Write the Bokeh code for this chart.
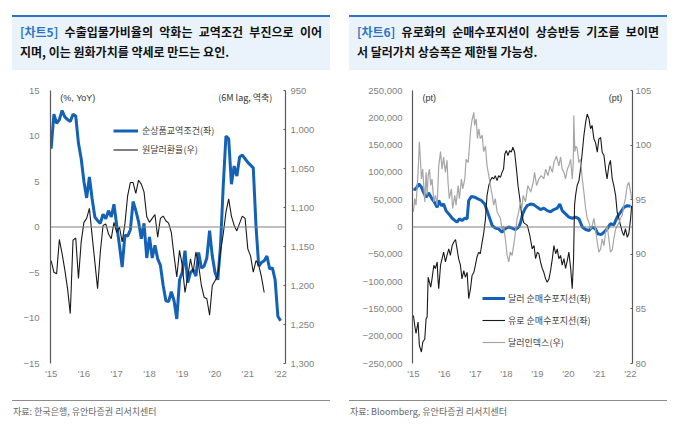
from bokeh.plotting import figure
from bokeh.models import Range1d, LinearAxis, FixedTicker, Span, Label, Legend, LegendItem, Div
from bokeh.layouts import column, row
from bokeh.embed import file_html
from bokeh.resources import INLINE

# ---------------- Chart 5 data (monthly, from Jan 2015) ----------------
tot_yoy = [8.6, 12.4, 11.4, 11.8, 12.8, 12.1, 11.8, 11.6, 12.4, 12.2, 9.2, 7.5,
           5.0, 3.2, 5.5, 3.1, 1.1, 0.7, 0.4, 1.4, 0.9, 1.8, 1.1, 2.5,
           0.2, -2.0, -4.4, -0.9, -1.0, -0.3, 2.8, 1.8, 0.6, -1.3, 0.4, -3.4,
           -1.1, -3.4, -2.0, -3.5, -4.2, -6.4, -8.1, -8.2, -7.1, -8.1, -10.1, -5.8,
           -5.0, -2.6, -6.1, -5.0, -4.7, -5.4, -2.8, -4.5, -4.3, -3.4, -0.4, -3.2,
           -5.0, -5.8, -2.1, 4.5, 10.0, 9.7, 4.7, 6.7, 5.6, 7.7, 7.9, 7.5,
           7.1, 6.8, 6.5, 0.1, -4.3, -3.9, -3.7, -3.2, -4.6, -4.5, -5.8, -9.8,
           -10.3]
krw_usd = [1168, 1183, 1185, 1141, 1159, 1180, 1204, 1236, 1142, 1139, 1191, 1144,
           1119, 1114, 1101, 1136, 1170, 1204, 1157, 1123, 1121, 1134, 1140, 1119,
           1132, 1125, 1144, 1121, 1085, 1068, 1068, 1082, 1065, 1070, 1080, 1112,
           1119, 1114, 1109, 1138, 1114, 1111, 1117, 1120, 1132, 1162, 1189, 1155,
           1174, 1209, 1189, 1166, 1183, 1157, 1174, 1200, 1215, 1217, 1238, 1200,
           1194, 1187, 1157, 1134, 1106, 1089, 1111, 1123, 1130, 1120, 1111, 1114,
           1153, 1162, 1183, 1168, 1174, 1189, 1209]
year_ticks = [2015, 2016, 2017, 2018, 2019, 2020, 2021, 2022]
year_labels = ["'15", "'16", "'17", "'18", "'19", "'20", "'21", "'22"]
c5_left_ticks = [-15, -10, -5, 0, 5, 10, 15]
c5_left_labels = ["\u221215", "\u221210", "\u22125", "0", "5", "10", "15"]
c5_right_ticks = [950, 1000, 1050, 1100, 1150, 1200, 1250, 1300]
c5_right_labels = ["950", "1,000", "1,050", "1,100", "1,150", "1,200", "1,250", "1,300"]

# ---------------- Chart 6 data (weekly readings; month offset from Jan 2015) ----------------
usd_m = [0, 0.8, 2.1, 3.1, 4.0, 4.9, 5.9, 7.2, 8.3, 9.2, 9.8, 10.8, 11.7, 12.6, 13.7,
         15, 16, 16.9, 17.8, 18.8, 19.9, 20.8, 21.4, 22.5, 23.7, 25, 26.3, 27.6, 28.5, 29.4,
         30.5, 31.7, 33, 34.3, 35.4, 36.9, 38.2, 39.5, 40.8, 41.5, 42.3, 43.2, 44, 45.4, 46.7,
         48, 49.2, 50.5, 51.8, 53.1, 54.4, 55.7, 56.7, 57.6, 58.9, 60.2, 61.5, 62.8, 64.1, 65.4,
         66.7, 68, 69.2, 70.5, 71.4, 72.7, 73.8, 75, 76.3, 77.6, 78.9, 80.2, 81.5, 82.8, 84.1]
usd_pos = [69.8, 68.6, 79, 73, 62.5, 54.6, 62.5, 51.5, 44, 36, 48.5, 39, 42, 30, 24,
           16, 12, 9, 15, 12, 16, 15, 48.5, 56, 54.6, 51.5, 48.5, 42, 30, 18,
           2.7, -2, -3.4, -9.5, -3.4, 0, -2, -4.6, 0, 8, 24, 33, 39, 42, 40.6,
           36, 32, 34.5, 30, 28, 32, 34.5, 42, 30, 24, 18, 16, 18, 15, 0,
           -4.6, -6.4, 0, -3.4, -12.5, -14, -9.5, -3.4, 6, 4, 18, 27, 36, 39, 38]
eur_m = [0, 0.5, 1, 1.8, 2.3, 3.1, 3.6, 4.4, 4.9, 5.3, 5.7, 6.2, 6.7, 7.2, 7.9, 8.5, 9.2, 9.5,
         9.8, 10.5, 11.1, 11.7, 12.4, 13, 13.7, 14.3, 15, 15.6, 16.3, 16.9, 17.5, 18.2, 18.8,
         19.5, 20.1, 20.8, 21.4, 22.1, 22.7, 23.4, 24, 24.6, 25.3, 25.9, 26.6, 27.2, 27.9, 28.5,
         29.2, 29.8, 30.5, 31.1, 31.7, 32.4, 33, 33.7, 34.3, 34.9, 35.4, 36, 36.6, 37.3, 37.9,
         38.5, 39.2, 39.9, 40.5, 41.2, 41.8, 42.7, 44.1, 45.1, 46, 46.7, 47.3, 48, 48.6, 49.2,
         49.9, 50.5, 51.2, 51.8, 52.5, 53.1, 53.8, 54.4, 55.1, 55.7, 56.3, 57, 57.6, 58.3, 58.9,
         59.6, 60.2, 60.9, 61.5, 62.0, 62.4, 62.8, 63.4, 64.1, 64.7, 65.4, 66, 66.7, 67.3, 68,
         68.6, 69.2, 69.9, 70.5, 71.2, 71.8, 72.5, 73.1, 73.8, 74.4, 75, 75.7, 76.3, 77, 77.6,
         78.3, 78.9, 79.6, 80.2, 80.9, 81.5, 82.1, 82.8, 83.4, 84.1, 84.5]
eur_pos = [-162, -180, -195, -174, -217, -229, -211, -205, -168, -165, -92, -101, -110, -95, -70, -76, -64, -95,
           -113, -70, -58, -46, -64, -52, -40, -52, -34, -28, -23, -40, -58, -70, -95,
           -80, -92, -83, -131, -113, -89, -83, -70, -55, -46, -49, -28, -12, 15, 58,
           76, 85, 91, 88, 94, 85, 94, 91, 100, 106, 134, 140, 131, 140, 137,
           146, 137, 106, 76, 52, 27, 8, 3, -16, -40, -34, -58, -46, -49, -64,
           -76, -83, -95, -101, -95, -80, -58, -34, -49, -40, -58, -52, -70, -58, -76,
           -61, -46, -76, -113, -60, 40, 58, 76, 85, 106, 137, 167, 192, 207, 198,
           180, 186, 161, 155, 137, 161, 164, 137, 131, 106, 88, 113, 122, 88, 76,
           58, 27, 15, 3, -9.5, -15.6, -3, -18.6, -12.5, 15, 39]
dxy_m = [0, 0.5, 1, 1.8, 2.3, 2.7, 3.1, 3.6, 4, 4.4, 4.9, 5.3, 5.7, 6.2, 6.7, 7.2, 7.9, 8.5,
         9.2, 9.8, 10.5, 11.1, 11.7, 12.4, 13, 13.4, 13.9, 14.7, 15.2, 16, 16.5, 17.3, 17.8,
         18.6, 19.1, 19.9, 20.4, 21.2, 21.7, 22.2, 22.7, 23.4, 23.7, 24.3, 24.8, 25.3, 25.9,
         26.6, 27.2, 27.9, 28.5, 29.2, 29.8, 30.5, 31.1, 31.7, 32.4, 33, 33.7, 34.3, 34.9,
         35.6, 36.3, 36.9, 37.5, 38.2, 38.8, 39.5, 40.1, 40.8, 41.4, 42, 42.5, 43.4, 44.3,
         45.4, 46.4, 46.9, 47.7, 48.6, 49.5, 50.5, 51.2, 52.1, 52.9, 53.8, 54.4, 55.4, 56.3,
         57, 57.6, 58.3, 58.9, 59.6, 60.2, 60.9, 61.5, 61.9, 62.1, 62.5, 62.9, 63.4, 64.1,
         64.7, 65.4, 66, 66.7, 67.3, 68, 68.6, 69.2, 69.9, 70.5, 71.2, 71.8, 72.5, 73.1,
         73.8, 74.4, 75, 75.7, 76.3, 77, 77.6, 78.3, 78.9, 79.6, 80.2, 80.9, 81.5, 82.1,
         82.8, 83.4, 84.1, 84.5]
dxy = [93.9, 95.1, 94.5, 97.5, 100.3, 98.7, 96.9, 97.8, 96.3, 94.8, 97.5, 95.4, 97.2, 97.8, 96.3, 96.9, 94.8, 95.4,
       94.5, 98.1, 99.4, 97.8, 98.9, 97.5, 98.6, 96.6, 95.1, 96.0, 94.2, 95.4, 94.5, 96.3, 95.1,
       96.9, 96.0, 96.9, 98.7, 98.4, 99.9, 101.5, 102.3, 103.0, 101.8, 102.4, 100.6, 101.5, 100.6,
       100.9, 99.4, 99.9, 98.1, 97.2, 96.3, 95.4, 94.5, 95.1, 93.9, 93.6, 93.3, 92.3, 92.6,
       91.4, 89.9, 89.3, 90.2, 89.9, 90.8, 92.0, 93.2, 93.9, 94.8, 94.2, 95.4, 94.8, 96.3,
       95.7, 96.6, 97.5, 96.3, 96.9, 97.2, 96.9, 97.8, 97.2, 98.1, 97.5, 98.4, 99.0, 98.1,
       98.9, 97.8, 97.5, 96.9, 97.8, 98.1, 98.7, 96.9, 98.4, 102.7, 99.4, 99.9, 99.7, 98.4,
       98.7, 96.9, 95.7, 94.2, 93.3, 92.9, 92.3, 92.6, 93.3, 92.3, 91.1, 90.2, 90.5, 91.4,
       90.8, 92.0, 92.6, 91.4, 90.2, 90.4, 91.4, 92.3, 92.6, 92.9, 93.3, 93.6, 94.5, 95.1,
       96.3, 96.6, 95.7, 95.1]
c6_left_ticks = [-250000, -200000, -150000, -100000, -50000, 0, 50000, 100000, 150000, 200000, 250000]
c6_left_labels = ["\u2212250,000", "\u2212200,000", "\u2212150,000", "\u2212100,000", "\u221250,000", "0",
                  "50,000", "100,000", "150,000", "200,000", "250,000"]
c6_right_ticks = [80, 85, 90, 95, 100, 105]
c6_right_labels = ["80", "85", "90", "95", "100", "105"]

BLUE = "#1461b8"
BLACK = "#1a1a1a"
GRAY = "#a6a6a6"
TICK_FONT = "Liberation Sans"
KR_FONT = "Noto Sans CJK KR"


def style_axis(ax, ticks, labels, line=True, tick_in=0, standoff=5):
    ax.ticker = FixedTicker(ticks=ticks)
    ax.major_label_overrides = dict(zip(ticks, labels))
    ax.major_label_text_font = TICK_FONT
    ax.major_label_text_font_size = "9.5px"
    ax.major_label_text_color = "#7f7f7f"
    ax.major_label_standoff = standoff
    ax.minor_tick_line_color = None
    ax.major_tick_in = tick_in
    ax.major_tick_out = 0
    ax.major_tick_line_color = "#595959" if tick_in else None
    ax.axis_line_color = "#595959" if line else None
    ax.axis_line_width = 1.2


def base_fig(width, xr, yr, bl, br):
    p = figure(width=width, height=310, x_range=xr, y_range=yr,
               output_backend="svg", toolbar_location=None,
               min_border_left=bl, min_border_right=br, min_border_top=5, min_border_bottom=32)
    p.grid.visible = False
    p.outline_line_color = None
    p.background_fill_color = "white"
    p.border_fill_color = "white"
    p.margin = 0
    return p


# ---------------- Chart 5 ----------------
t5a = [2015 + i / 12 for i in range(len(tot_yoy))]
t5b = [2015 + i / 12 for i in range(len(krw_usd))]
p1 = base_fig(332, Range1d(2014.98, 2022.15), Range1d(-15, 15), 42, 55)
p1.extra_y_ranges = {"fx": Range1d(start=1300, end=950)}
style_axis(p1.yaxis[0], c5_left_ticks, c5_left_labels, standoff=11)
style_axis(p1.xaxis[0], year_ticks, year_labels, line=False, standoff=4)
ax_r1 = LinearAxis(y_range_name="fx")
style_axis(ax_r1, c5_right_ticks, c5_right_labels, tick_in=2, standoff=5)
p1.add_layout(ax_r1, "right")
p1.add_layout(Span(location=0, dimension="width", line_color="#808080", line_width=1))
r_tot = p1.line(t5a, tot_yoy, line_color=BLUE, line_width=3)
r_krw = p1.line(t5b, krw_usd, line_color=BLACK, line_width=1.1, y_range_name="fx")
p1.add_layout(Label(x=2015.28, y=14.2, text="(%, YoY)", text_font=TICK_FONT, text_font_size="9px",
                    text_color="#333333", text_baseline="middle"))
p1.add_layout(Label(x=2021.75, y=14.2, text="(6M lag, 역축)", text_font=KR_FONT, text_font_size="9px",
                    text_color="#333333", text_baseline="middle", text_align="right"))
leg1 = Legend(items=[LegendItem(label="순상품교역조건(좌)", renderers=[r_tot]),
                     LegendItem(label="원달러환율(우)", renderers=[r_krw])],
              location=(63, 204), padding=0, margin=0, spacing=0, label_standoff=4,
              glyph_width=25, glyph_height=19, label_height=19,
              label_text_font=KR_FONT, label_text_font_size="9px", label_text_color="#404040",
              border_line_color=None, background_fill_alpha=0)
p1.add_layout(leg1)

# ---------------- Chart 6 ----------------
p2 = base_fig(331, Range1d(2014.97, 2022.07), Range1d(-250000, 250000), 72, 39)
p2.extra_y_ranges = {"dxy": Range1d(start=80, end=105)}
style_axis(p2.yaxis[0], c6_left_ticks, c6_left_labels, standoff=10)
style_axis(p2.xaxis[0], year_ticks, year_labels, line=False, standoff=4)
ax_r2 = LinearAxis(y_range_name="dxy")
style_axis(ax_r2, c6_right_ticks, c6_right_labels, tick_in=2, standoff=3)
p2.add_layout(ax_r2, "right")
p2.add_layout(Span(location=0, dimension="width", line_color="#808080", line_width=1))
r_usd = p2.line([2015 + m / 12 for m in usd_m], [v * 1000 for v in usd_pos], line_color=BLUE, line_width=3)
r_eur = p2.line([2015 + m / 12 for m in eur_m], [v * 1000 for v in eur_pos], line_color=BLACK, line_width=1.1)
r_dxy = p2.line([2015 + m / 12 for m in dxy_m], dxy, line_color=GRAY, line_width=1.2, y_range_name="dxy")
p2.add_layout(Label(x=2015.29, y=237000, text="(pt)", text_font=TICK_FONT, text_font_size="9px",
                    text_color="#333333", text_baseline="middle"))
p2.add_layout(Label(x=2021.74, y=237000, text="(pt)", text_font=TICK_FONT, text_font_size="9px",
                    text_color="#333333", text_baseline="middle", text_align="right"))
leg2 = Legend(items=[LegendItem(label="달러 순매수포지션(좌)", renderers=[r_usd]),
                     LegendItem(label="유로 순매수포지션(좌)", renderers=[r_eur]),
                     LegendItem(label="달러인덱스(우)", renderers=[r_dxy])],
              location=(70, 10), padding=0, margin=0, spacing=0, label_standoff=3,
              glyph_width=23, glyph_height=22, label_height=22,
              label_text_font=KR_FONT, label_text_font_size="9px", label_text_color="#404040",
              border_line_color=None, background_fill_alpha=0)
p2.add_layout(leg2)


# ---------------- Headers & footers ----------------
def header(tag, line1, line2, box_left, width):
    font = "font-family:'Noto Sans CJK KR';font-weight:bold;font-size:12px;line-height:20px;color:#111;"
    html = (
        f'<div style="position:relative;width:{width}px;height:77px;">'
        f'<div style="position:absolute;left:{box_left}px;top:7px;width:318px;height:55px;box-sizing:border-box;'
        f'background:#eaf3fc;border-top:2px solid #2e74c4;"></div>'
        f'<div style="position:absolute;left:{box_left + 8}px;top:14px;width:302px;height:20px;{font}'
        f'text-align:justify;text-align-last:justify;white-space:nowrap;">'
        f'<span style="color:#2e74c4">{tag}</span> {line1}</div>'
        f'<div style="position:absolute;left:{box_left + 8}px;top:34px;width:302px;height:20px;{font}'
        f'white-space:nowrap;">{line2}</div>'
        f'</div>'
    )
    return Div(text=html, width=width, height=77, margin=0)


def footer(text, box_left, width):
    html = (
        f'<div style="position:relative;width:{width}px;height:23px;">'
        f'<div style="position:absolute;left:{box_left}px;top:5px;width:318px;height:0;border-top:1px solid #8c8c8c;"></div>'
        f"<div style=\"position:absolute;left:{box_left + 1}px;top:11px;font-family:'Noto Sans CJK KR';"
        f'font-size:9px;line-height:12px;color:#666;white-space:nowrap;">{text}</div>'
        f'</div>'
    )
    return Div(text=html, width=width, height=23, margin=0)


h1 = header("[차트5]", "수출입물가비율의 악화는 교역조건 부진으로 이어", "지며, 이는 원화가치를 약세로 만드는 요인.", 4, 332)
h2 = header("[차트6]", "유로화의 순매수포지션이 상승반등 기조를 보이면", "서 달러가치 상승폭은 제한될 가능성.", 9, 331)
f1 = footer("자료: 한국은행, 유안타증권 리서치센터", 4, 332)
f2 = footer("자료: Bloomberg, 유안타증권 리서치센터", 9, 331)

layout = column(row(h1, h2, spacing=0), row(p1, p2, spacing=0), row(f1, f2, spacing=0),
                spacing=0, margin=(8, 0, 0, 8))

open("out.html", "w").write(file_html(layout, INLINE))
